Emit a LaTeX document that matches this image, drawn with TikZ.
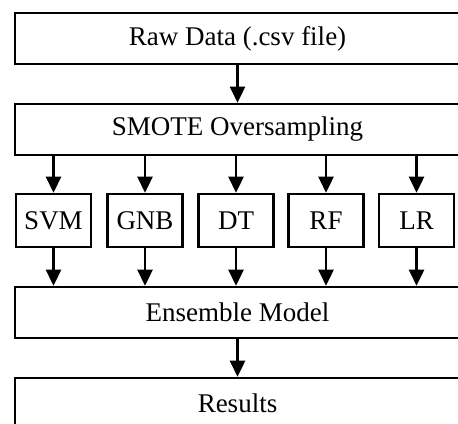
\documentclass[tikz,border=0pt]{standalone}
\usepackage{fontspec}
\setmainfont{Liberation Serif}
\usetikzlibrary{arrows.meta}
\tikzset{block/.style = {draw, line width=1.3pt, minimum width=222.5pt, minimum height=25.5pt, inner sep=0pt}}
\tikzset{model/.style = {draw, line width=1.3pt, minimum width=37.5pt, minimum height=26.5pt, inner sep=0pt}}
\tikzset{line/.style = {draw, line width=1.3pt, -{Triangle[length=8pt,width=7.5pt]}}}
\begin{document}
\begin{tikzpicture}[x=0.5pt, y=-0.5pt, font=\fontsize{13.5}{16}\selectfont]
		\useasboundingbox (0,0) rectangle (458,423);
		\node[block] (raw) at (237.5,38.5) {Raw Data (.csv file)};
		\node[block] (smote) at (237.5,129.5) {SMOTE Oversampling};
		\node[model] (svm) at (53.5,220.5) {SVM};
		\node[model] (gnb) at (145,220.5) {GNB};
		\node[model] (dt) at (236,220.5) {DT};
		\node[model] (rf) at (326,220.5) {RF};
		\node[model] (lr) at (416.5,220.5) {LR};
		\node[block] (ens) at (237.5,312.5) {Ensemble Model};
		\node[block] (res) at (237.5,403.5) {Results};
		\path [line] (raw) -- (smote);
		\path [line] (smote.south -| svm) -- (svm);
		\path [line] (smote.south -| gnb) -- (gnb);
		\path [line] (smote.south -| dt) -- (dt);
		\path [line] (smote.south -| rf) -- (rf);
		\path [line] (smote.south -| lr) -- (lr);
		\path [line] (svm) -- (ens.north -| svm);
		\path [line] (gnb) -- (ens.north -| gnb);
		\path [line] (dt) -- (ens.north -| dt);
		\path [line] (rf) -- (ens.north -| rf);
		\path [line] (lr) -- (ens.north -| lr);
		\path [line] (ens) -- (res);
\end{tikzpicture}
\end{document}
